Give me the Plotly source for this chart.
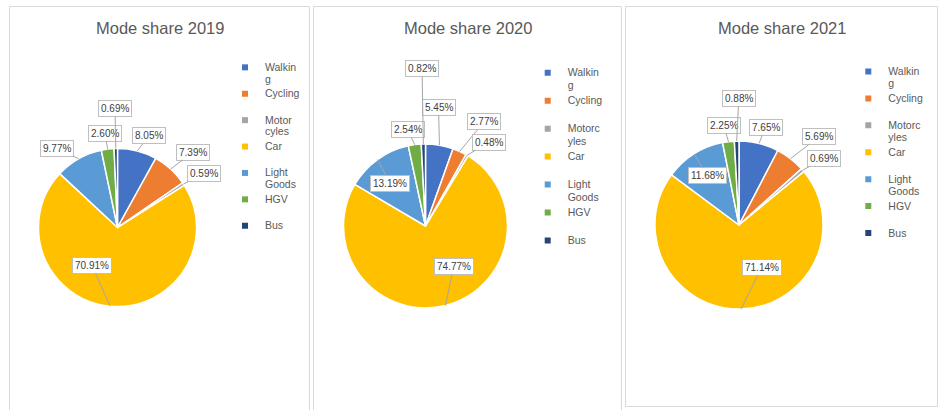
import math
import plotly.graph_objects as go

# ---------------- data ----------------
categories = ["Walking", "Cycling", "Motorcyles", "Car", "Light Goods", "HGV", "Bus"]
years = ["2019", "2020", "2021"]
share_2019 = [8.05, 7.39, 0.59, 70.91, 9.77, 2.60, 0.69]
share_2020 = [5.45, 2.77, 0.48, 74.77, 13.19, 2.54, 0.82]
share_2021 = [7.65, 5.69, 0.69, 71.14, 11.68, 2.25, 0.88]
legend_labels_2019 = ["Walkin<br>g", "Cycling", "Motor<br>cyles", "Car", "Light<br>Goods", "HGV", "Bus"]
legend_labels_2020 = ["Walkin<br>g", "Cycling", "Motorc<br>yles", "Car", "Light<br>Goods", "HGV", "Bus"]
legend_labels_2021 = ["Walkin<br>g", "Cycling", "Motorc<br>yles", "Car", "Light<br>Goods", "HGV", "Bus"]

# ---------------- style / layout ----------------
W, H = 942, 410
colors = ["#4472C4", "#ED7D31", "#A5A5A5", "#FFC000", "#5B9BD5", "#70AD47", "#264478"]
FONT = "Liberation Sans, Arial, sans-serif"

panels = [  # x0, y0, x1, y1 (pixels)
    (9.5, 6.5, 309.5, 412),
    (313.5, 6.5, 621.5, 412),
    (625.5, 6.5, 937.5, 406.5),
]
pie_geom = [(117.5, 227.5, 79), (425.5, 226, 82), (739, 225, 84)]  # cx, cy, r
label_boxes = [
    [(148.7, 136), (193, 152), (204, 173.7), (92, 265.5), (56.5, 148.7), (105, 133), (115, 108.3)],
    [(438.5, 107), (484, 122), (489, 142.3), (453.7, 266.5), (390, 183), (407.5, 129.5), (422, 68.5)],
    [(765.5, 127.5), (819.3, 136.5), (824, 158.2), (761.8, 267.3), (707.4, 175.8), (723.8, 125.3), (738.8, 98.3)],
]
legend_pos = [(225, 55), (527.7, 60), (848.3, 59)]  # left x, top y (pixels)
legend_font = [9, 9.6, 9.2]      # controls the row pitch
legend_text_px = 10.5            # visible glyph size

shares = [share_2019, share_2020, share_2021]
legend_labels = [legend_labels_2019, legend_labels_2020, legend_labels_2021]
legend_ids = ["legend", "legend2", "legend3"]

fig = go.Figure()
annotations = []
shapes = []

for i, year in enumerate(years):
    vals = shares[i]
    cx, cy, r = pie_geom[i]
    fig.add_trace(go.Pie(
        labels=categories, values=vals, sort=False, direction="clockwise", rotation=0,
        marker=dict(colors=colors, line=dict(color="white", width=1.5)),
        textinfo="none", showlegend=False, name=year,
        domain=dict(x=[(cx - r) / W, (cx + r) / W], y=[1 - (cy + r) / H, 1 - (cy - r) / H]),
    ))
    # legend entries
    for j, cat in enumerate(categories):
        parts = legend_labels[i][j].split("<br>")
        if len(parts) == 1:
            parts.append("\u00a0")
        lab = "<br>".join(f"<span style='font-size:{legend_text_px}px'>{p}</span>" for p in parts)
        fig.add_trace(go.Scatter(
            x=[None], y=[None], mode="markers", name=lab, legendgroup=f"{year}-{cat}",
            marker=dict(symbol="square", size=6, color=colors[j]),
            legend=legend_ids[i], showlegend=True, hoverinfo="skip",
        ))
    # data labels with leader lines
    total = sum(vals)
    cum = 0.0
    for j, v in enumerate(vals):
        theta = math.radians(360.0 * (cum + v / 2) / total)
        cum += v
        tx = cx + r * math.sin(theta)
        ty = cy - r * math.cos(theta)
        bx, by = label_boxes[i][j]
        annotations.append(dict(
            x=tx / W, y=1 - ty / H, xref="paper", yref="paper",
            ax=bx - tx, ay=by - ty, axref="pixel", ayref="pixel",
            text=f"{v:.2f}%", showarrow=True, arrowhead=0, arrowwidth=1,
            arrowcolor="#A6A6A6", standoff=0,
            bgcolor="white", bordercolor="#BFBFBF", borderwidth=1, borderpad=2,
            font=dict(family=FONT, size=10, color="#404040"),
        ))
    # title
    px0, py0, px1, py1 = panels[i]
    annotations.append(dict(
        x=((px0 + px1) / 2) / W, y=1 - 28 / H, xref="paper", yref="paper",
        text=f"Mode share {year}", showarrow=False, xanchor="center", yanchor="middle",
        font=dict(family=FONT, size=16.5, color="#595959"),
    ))
    shapes.append(dict(
        type="rect", xref="paper", yref="paper",
        x0=px0 / W, x1=px1 / W, y0=1 - py1 / H, y1=1 - py0 / H,
        line=dict(color="#D9D9D9", width=1), fillcolor="rgba(0,0,0,0)", layer="below",
    ))

legend_layout = {}
for i, lid in enumerate(legend_ids):
    lx, ly = legend_pos[i]
    legend_layout[lid] = dict(
        x=lx / W, y=1 - ly / H, xanchor="left", yanchor="top",
        xref="paper", yref="paper", valign="top", itemsizing="trace",
        bgcolor="rgba(0,0,0,0)", borderwidth=0, tracegroupgap=0,
        font=dict(family=FONT, size=legend_font[i], color="#595959"),
        itemclick=False, itemdoubleclick=False,
    )

fig.update_layout(
    width=W, height=H, margin=dict(l=0, r=0, t=0, b=0),
    paper_bgcolor="white", plot_bgcolor="white",
    xaxis=dict(visible=False), yaxis=dict(visible=False),
    annotations=annotations, shapes=shapes,
    **legend_layout,
)

fig.write_html(
    "out.html",
    config={"displayModeBar": False},
    post_script="document.body.style.margin='0px';document.body.style.overflow='hidden';",
)
